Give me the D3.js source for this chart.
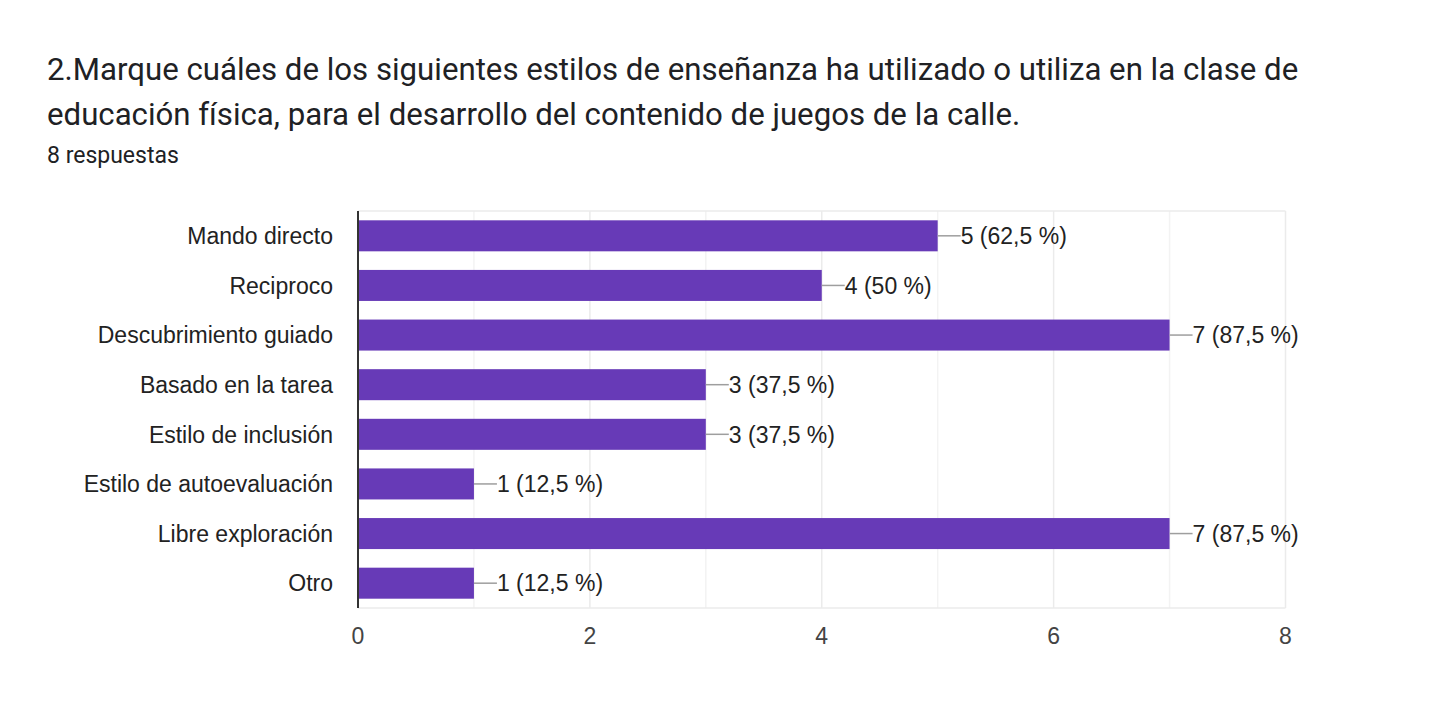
<!DOCTYPE html>
<html>
<head>
<meta charset="utf-8">
<script src="https://cdn.jsdelivr.net/npm/d3@7"></script>
<style>
  body { margin: 0; background: #fff; font-family: Roboto, "Noto Sans", Arial, sans-serif; }
  .lbl { font-family: "Liberation Sans", Arial, sans-serif; }
</style>
</head>
<body>
<script>
// datos del gráfico
const categories = ["Mando directo", "Reciproco", "Descubrimiento guiado", "Basado en la tarea",
  "Estilo de inclusión", "Estilo de autoevaluación", "Libre exploración", "Otro"];
const counts = [5, 4, 7, 3, 3, 1, 7, 1];
const percents = ["62,5", "50", "87,5", "37,5", "37,5", "12,5", "87,5", "12,5"];
const xTicks = [0, 2, 4, 6, 8];
const minorTicks = [1, 3, 5, 7];
const titleLines = ["2.Marque cuáles de los siguientes estilos de enseñanza ha utilizado o utiliza en la clase de",
  "educación física, para el desarrollo del contenido de juegos de la calle."];
const subtitle = "8 respuestas";

const width = 1429, height = 726;
const plot = {left: 358, right: 1285.5, top: 211, bottom: 608};

const svg = d3.select("body").append("svg")
  .attr("width", width)
  .attr("height", height);

// título
svg.selectAll("text.title")
  .data(titleLines)
  .enter().append("text")
  .attr("class", "title")
  .attr("x", 47)
  .attr("y", (d, i) => 80 + i * 45)
  .attr("font-size", 31.2)
  .attr("fill", "#202124")
  .text(d => d);

svg.append("text")
  .attr("x", 47)
  .attr("y", 163)
  .attr("font-size", 23)
  .attr("fill", "#202124")
  .text(subtitle);

const xScale = d3.scaleLinear().domain([0, 8]).range([plot.left, plot.right]);
const yScale = d3.scaleBand().domain(categories).range([plot.top, plot.bottom])
  .paddingInner(0.375).paddingOuter(0.1875);

// cuadrícula
svg.selectAll("line.minor")
  .data(minorTicks)
  .enter().append("line")
  .attr("x1", d => xScale(d)).attr("x2", d => xScale(d))
  .attr("y1", plot.top).attr("y2", plot.bottom)
  .attr("stroke", "#f3f3f3").attr("stroke-width", 1.5);

svg.selectAll("line.major")
  .data(xTicks)
  .enter().append("line")
  .attr("x1", d => xScale(d)).attr("x2", d => xScale(d))
  .attr("y1", plot.top).attr("y2", plot.bottom)
  .attr("stroke", "#ebebeb").attr("stroke-width", 1.5);

svg.append("line")
  .attr("x1", plot.left).attr("x2", plot.right)
  .attr("y1", plot.top).attr("y2", plot.top)
  .attr("stroke", "#ebebeb").attr("stroke-width", 1.5);
svg.append("line")
  .attr("x1", plot.left).attr("x2", plot.right)
  .attr("y1", plot.bottom).attr("y2", plot.bottom)
  .attr("stroke", "#ebebeb").attr("stroke-width", 1.5);

// barras
svg.selectAll("rect.bar")
  .data(counts)
  .enter().append("rect")
  .attr("class", "bar")
  .attr("x", xScale(0))
  .attr("y", (d, i) => yScale(categories[i]))
  .attr("width", d => xScale(d) - xScale(0))
  .attr("height", yScale.bandwidth())
  .attr("fill", "#673ab7");

// etiquetas de valor
const mid = i => yScale(categories[i]) + yScale.bandwidth() / 2;
svg.selectAll("line.leader")
  .data(counts)
  .enter().append("line")
  .attr("x1", d => xScale(d)).attr("x2", d => xScale(d) + 23)
  .attr("y1", (d, i) => mid(i)).attr("y2", (d, i) => mid(i))
  .attr("stroke", "#9e9e9e").attr("stroke-width", 1.5);

svg.selectAll("text.val")
  .data(counts)
  .enter().append("text")
  .attr("class", "lbl")
  .attr("x", d => xScale(d) + 23)
  .attr("y", (d, i) => mid(i))
  .attr("dy", "0.36em")
  .attr("font-size", 23)
  .attr("fill", "#222")
  .text((d, i) => `${d} (${percents[i]} %)`);

// eje vertical
svg.append("line")
  .attr("x1", plot.left).attr("x2", plot.left)
  .attr("y1", plot.top).attr("y2", plot.bottom)
  .attr("stroke", "#333").attr("stroke-width", 2);

svg.selectAll("text.cat")
  .data(categories)
  .enter().append("text")
  .attr("class", "lbl")
  .attr("x", 333)
  .attr("y", (d, i) => mid(i))
  .attr("dy", "0.36em")
  .attr("text-anchor", "end")
  .attr("font-size", 23)
  .attr("fill", "#222")
  .text(d => d);

svg.selectAll("text.tick")
  .data(xTicks)
  .enter().append("text")
  .attr("class", "lbl")
  .attr("x", d => xScale(d))
  .attr("y", 644)
  .attr("text-anchor", "middle")
  .attr("font-size", 23)
  .attr("fill", "#444")
  .text(d => d);
</script>
</body>
</html>
